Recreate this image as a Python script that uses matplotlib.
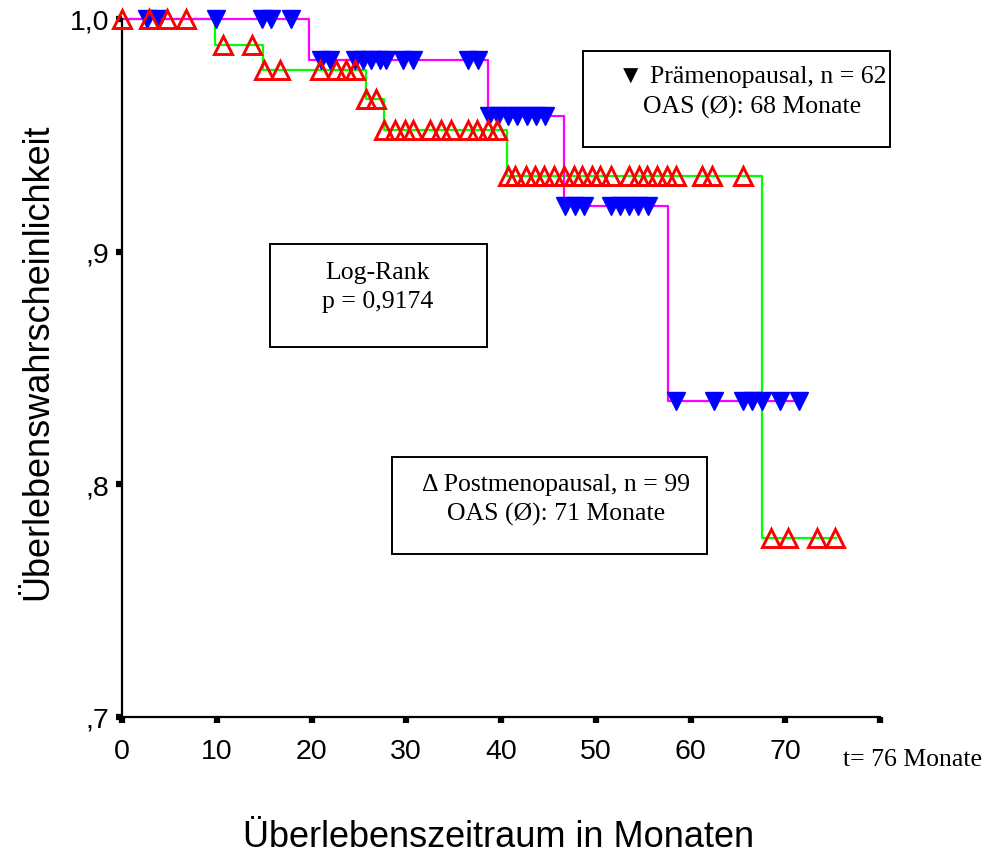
import numpy as np
import matplotlib
matplotlib.use("Agg")
import matplotlib.pyplot as plt
from matplotlib.patches import Rectangle

# Kaplan-Meier steps (time in months, survival after each step)
post_steps = [9.8, 14.9, 25.7, 27.7, 40.6, 67.5]
post_levels = [1.0, 0.989, 0.978, 0.9657, 0.9525, 0.9327, 0.777]
post_end = 75.4
post_censored = [0.0, 2.8, 4.8, 6.8,
                 10.7, 13.7,
                 15.0, 16.7, 20.9, 22.6, 23.6, 24.6,
                 25.8, 26.8,
                 27.7, 28.8, 29.9, 30.7, 32.5, 33.7, 34.7, 36.5, 37.5, 38.6, 39.6,
                 40.7, 41.5, 42.6, 43.6, 44.5, 45.6, 46.6, 47.7, 48.5, 49.6, 50.5,
                 51.6, 53.5, 54.6, 55.4, 56.5, 57.5, 58.5, 61.2, 62.3, 65.5,
                 68.5, 70.3, 73.4, 75.3]

pre_steps = [19.7, 38.6, 46.7, 57.6]
pre_levels = [1.0, 0.9824, 0.9585, 0.9196, 0.836]
pre_end = 71.5
pre_censored = [2.6, 3.9, 9.9, 14.8, 15.7, 17.8,
                21.0, 21.9, 24.6, 25.4, 26.3, 27.2, 27.9, 29.7, 30.7, 36.5, 37.6,
                38.7, 39.7, 40.7, 41.7, 42.7, 43.7, 44.6,
                46.8, 47.8, 48.8, 51.6, 52.6, 53.5, 54.5, 55.5,
                58.5, 62.5, 65.5, 66.5, 67.5, 69.4, 71.5]

x_ticks = [0, 10, 20, 30, 40, 50, 60, 70, 80]
x_ticklabels = ["0", "10", "20", "30", "40", "50", "60", "70", ""]
y_ticks = [0.7, 0.8, 0.9, 1.0]
y_ticklabels = [",7", ",8", ",9", "1,0"]

W, H = 998, 854
SANS = ["Liberation Sans", "DejaVu Sans"]
NARROW = ["Liberation Sans Narrow", "Liberation Sans", "DejaVu Sans"]
SERIF = ["Liberation Serif", "DejaVu Serif", "DejaVu Sans"]


def px(x, y):
    # pixel position (from top-left) -> figure fraction
    return x / W, 1 - y / H


def step_xy(steps, levels, end):
    xs = [0.0] + list(steps) + [end]
    ys = list(levels) + [levels[-1]]
    return xs, ys


def level_at(steps, levels, times):
    idx = np.searchsorted(steps, times, side="right")
    return np.asarray(levels)[idx]


fig = plt.figure(figsize=(W / 100, H / 100), dpi=100)
l, b = px(122, 718)
r, t = px(880, 20)
ax = fig.add_axes([l, b, r - l, t - b])

xs, ys = step_xy(post_steps, post_levels, post_end)
ax.plot(xs, ys, drawstyle="steps-post", color="#00ff00", lw=1.6, clip_on=False, zorder=2)
xs, ys = step_xy(pre_steps, pre_levels, pre_end)
ax.plot(xs, ys, drawstyle="steps-post", color="#ff00ff", lw=1.6, clip_on=False, zorder=2)

ax.plot(pre_censored, level_at(pre_steps, pre_levels, pre_censored), ls="none",
        marker="v", ms=12.5, color="#0000ff", mec="#0000ff", clip_on=False, zorder=3)
ax.plot(post_censored, level_at(post_steps, post_levels, post_censored), ls="none",
        marker="^", ms=12.5, mfc="none", mec="#ff0000", mew=2.1, clip_on=False, zorder=4)

ax.set_xlim(0, 80)
ax.set_ylim(0.7, 1.0)
ax.set_xticks(x_ticks)
ax.set_xticklabels(x_ticklabels, family=NARROW, fontsize=20.5)
ax.set_yticks(y_ticks)
ax.set_yticklabels(y_ticklabels, family=NARROW, fontsize=20.5)
ax.tick_params(direction="out", length=4, width=4.5, color="black")
ax.tick_params(axis="x", pad=11)
ax.tick_params(axis="y", pad=5)
for side in ("top", "right"):
    ax.spines[side].set_visible(False)
for side in ("left", "bottom"):
    ax.spines[side].set_linewidth(1.6)

# axis titles
fig.text(*px(499, 847), "Überlebenszeitraum in Monaten", family=SANS, fontsize=26,
         ha="center", va="baseline")
fig.text(*px(38, 362), "Überlebenswahrscheinlichkeit", family=SANS, fontsize=26,
         rotation=90, ha="center", va="center")
fig.text(*px(843, 760), "t= 76 Monate", family=SERIF, fontsize=18.5, ha="left", va="center")


def box(x0, y0, x1, y1, lines, cx, ys):
    fx0, fy1 = px(x0, y0)
    fx1, fy0 = px(x1, y1)
    fig.add_artist(Rectangle((fx0, fy0), fx1 - fx0, fy1 - fy0, transform=fig.transFigure,
                             fill=False, ec="black", lw=1.4))
    for txt, y in zip(lines, ys):
        fig.text(*px(cx, y), txt, family=SERIF, fontsize=18.5, ha="center", va="center")


box(583, 52, 890, 148, ["▼ Prämenopausal, n = 62", "OAS (Ø): 68 Monate"], 752, [77, 107])
box(270, 245, 487, 348, ["Log-Rank", "p = 0,9174"], 378, [273, 302])
box(392, 458, 707, 555, ["Δ Postmenopausal, n = 99", "OAS (Ø): 71 Monate"], 556, [485, 514])

fig.savefig("out.png", dpi=100)
